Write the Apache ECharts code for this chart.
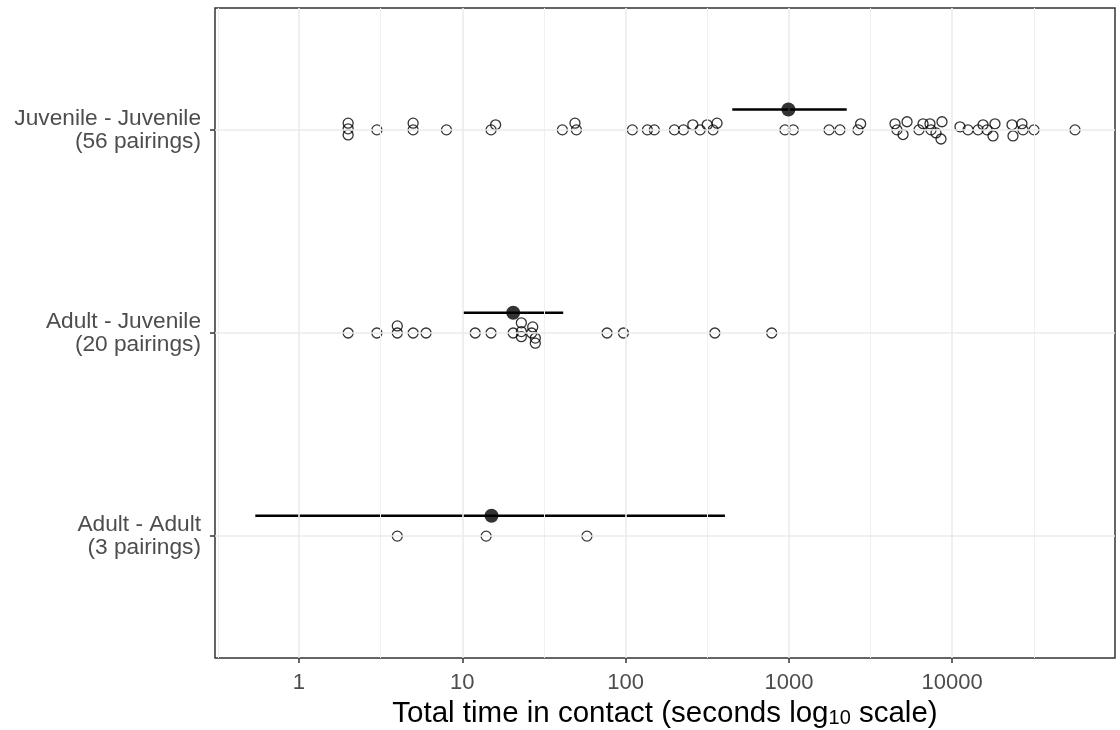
<!DOCTYPE html>
<html>
<head>
<meta charset="utf-8">
<title>Total time in contact</title>
<script src="https://cdn.jsdelivr.net/npm/echarts@6/dist/echarts.min.js"></script>
<style>
  html, body { margin: 0; padding: 0; background: #fff; }
  #chart { width: 1120px; height: 730px; }
</style>
</head>
<body>
<div id="chart"></div>
<script>
// row labels, bottom to top
const rowLabels = ['Adult - Adult\n(3 pairings)', 'Adult - Juvenile\n(20 pairings)', 'Juvenile - Juvenile\n(56 pairings)']

// x axis breaks
const majorBreaks = [1, 10, 100, 1000, 10000]
const minorBreaks = [0.3162, 3.162, 31.62, 316.2, 3162, 31623]

// Juvenile - Juvenile pairings (seconds) and vertical dodge (row units)
const jjTimes = [2, 2, 2, 3, 5, 5, 8, 15, 16, 41, 49, 50,
  110, 136, 150, 199, 226, 258, 286, 316, 343, 363,
  946, 1064, 1762, 2055, 2650, 2750,
  4465, 4590, 5000, 5290, 6260, 6630, 7310, 7420, 7960, 8540, 8660,
  11160, 12500, 14400, 15450, 16340, 17780, 18280,
  23240, 23570, 26740, 27150, 31700, 56500]
const jjDodge = [0.033, 0.005, -0.025, 0, 0.033, 0, 0, 0, 0.025, 0, 0.033, 0,
  0, 0, 0, 0, 0, 0.025, 0, 0.025, 0, 0.033,
  0, 0, 0, 0, 0, 0.03,
  0.03, 0, -0.023, 0.04, 0, 0.03, 0.03, 0, -0.015, -0.045, 0.04,
  0.015, 0, 0, 0.025, 0, -0.03, 0.03,
  0.025, -0.03, 0.03, 0, 0, 0]

// Adult - Juvenile pairings
const ajTimes = [2, 3, 4, 4, 5, 6, 12, 15, 20.5, 23, 23, 23, 27, 26.6, 28, 28, 77, 97, 352, 785]
const ajDodge = [0, 0, 0.035, 0, 0, 0, 0, 0, 0, 0.05, 0.007, -0.018, 0.03, 0, -0.025, -0.05, 0, 0, 0, 0]

// Adult - Adult pairings
const aaTimes = [4, 14, 58]
const aaDodge = [0, 0, 0]

// mean and interval per row (bottom to top)
const meanTimes = [15.1, 20.5, 993]
const lowTimes = [0.54, 10.1, 450]
const highTimes = [406, 41.5, 2260]
const meanOffset = 0.1

const fontFamily = "'Liberation Sans', Arial, sans-serif"

// 组合散点数据
const toPoints = (times, dodge, row) => times.map((t, i) => [t, row + dodge[i]])
const pointData = [
  ...toPoints(aaTimes, aaDodge, 1),
  ...toPoints(ajTimes, ajDodge, 2),
  ...toPoints(jjTimes, jjDodge, 3)
]
const meanData = meanTimes.map((m, i) => [m, i + 1 + meanOffset])
const barData = meanTimes.map((m, i) => [lowTimes[i], highTimes[i], i + 1 + meanOffset])

const chart = echarts.init(document.getElementById('chart'))

const option = {
  animation: false,
  backgroundColor: '#fff',
  textStyle: { fontFamily: fontFamily },
  grid: {
    left: 215,
    right: 5,
    top: 8,
    bottom: 72,
    outerBoundsMode: 'none',
    containLabel: false,
    show: true,
    backgroundColor: '#fff',
    borderColor: '#333333',
    borderWidth: 1.5
  },
  xAxis: {
    type: 'log',
    logBase: 10,
    min: 0.306,
    max: 99300,
    axisLine: { show: false },
    axisTick: {
      customValues: majorBreaks,
      length: 5,
      lineStyle: { color: '#333333', width: 1.5 }
    },
    axisLabel: {
      customValues: majorBreaks,
      formatter: (v) => String(Math.round(v)),
      color: '#4d4d4d',
      fontSize: 22,
      margin: 14,
      fontFamily: fontFamily
    },
    splitLine: { show: false },
    name: 'Total time in contact (seconds log{sub|10} scale)',
    nameLocation: 'middle',
    nameGap: 38,
    nameTextStyle: {
      color: '#000',
      fontSize: 29.5,
      fontFamily: fontFamily,
      rich: {
        sub: { fontSize: 20, padding: [9, 0, 0, 0], fontFamily: fontFamily, color: '#000' }
      }
    }
  },
  yAxis: {
    type: 'value',
    min: 0.4,
    max: 3.6,
    axisLine: { show: false },
    axisTick: {
      customValues: [1, 2, 3],
      length: 5,
      lineStyle: { color: '#333333', width: 1.5 }
    },
    axisLabel: {
      customValues: [1, 2, 3],
      formatter: (v) => rowLabels[Math.round(v) - 1],
      color: '#4d4d4d',
      fontSize: 22.7,
      lineHeight: 23,
      align: 'right',
      margin: 14,
      fontFamily: fontFamily
    },
    splitLine: { show: false }
  },
  series: [
    {
      // 网格线
      type: 'scatter',
      data: [],
      silent: true,
      z: 1,
      markLine: {
        silent: true,
        symbol: 'none',
        label: { show: false },
        animation: false,
        data: [
          ...minorBreaks.map((v) => ({ xAxis: v, lineStyle: { color: '#f0f0f0', width: 1, type: 'solid' } })),
          ...majorBreaks.map((v) => ({ xAxis: v, lineStyle: { color: '#ebebeb', width: 1.6, type: 'solid' } })),
          ...[1, 2, 3].map((v) => ({ yAxis: v, lineStyle: { color: '#ebebeb', width: 1.6, type: 'solid' } }))
        ]
      }
    },
    {
      type: 'scatter',
      data: pointData,
      symbol: 'circle',
      symbolSize: 10,
      z: 3,
      itemStyle: { color: 'rgba(0,0,0,0)', borderColor: '#000', borderWidth: 1.3 }
    },
    {
      // 区间线
      type: 'custom',
      data: barData,
      z: 4,
      renderItem: (params, api) => {
        const p1 = api.coord([api.value(0), api.value(2)])
        const p2 = api.coord([api.value(1), api.value(2)])
        return {
          type: 'line',
          shape: { x1: p1[0], y1: p1[1], x2: p2[0], y2: p2[1] },
          style: { stroke: '#000', lineWidth: 2.4 }
        }
      }
    },
    {
      type: 'scatter',
      data: meanData,
      symbol: 'circle',
      symbolSize: 14,
      z: 5,
      itemStyle: { color: '#000' }
    }
  ]
}
chart.setOption(option)
</script>
</body>
</html>
